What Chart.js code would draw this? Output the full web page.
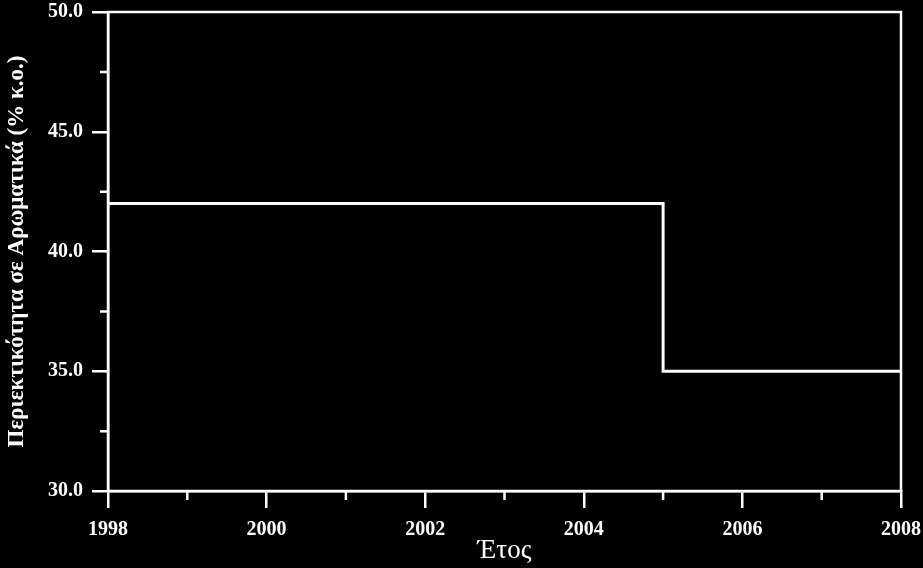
<!DOCTYPE html>
<html>
<head>
<meta charset="utf-8">
<script src="https://cdn.jsdelivr.net/npm/chart.js@4/dist/chart.umd.min.js"></script>
<style>
  html, body { margin: 0; padding: 0; background: #000; }
  #wrap { width: 923px; height: 568px; }
</style>
</head>
<body>
<div id="wrap"><canvas id="grafico" width="923" height="568"></canvas></div>
<script>
// Dados do gráfico (vértices da linha em degrau)
const anos = [1998, 2005, 2005, 2008];
const aromaticos = [42, 42, 35, 35];

// Ticks dos eixos
const ticksX = [1998, 2000, 2002, 2004, 2006, 2008];
const ticksXMenores = [1999, 2001, 2003, 2005, 2007];
const ticksY = [30, 35, 40, 45, 50];
const ticksYMenores = [32.5, 37.5, 42.5, 47.5];

const tituloX = 'Έτος';
const tituloY = 'Περιεκτικότητα σε Αρωματικά (% κ.ο.)';

const fonte = "'Liberation Serif', 'Times New Roman', serif";

// Plugin: moldura do gráfico + ticks menores
const molduraPlugin = {
  id: 'moldura',
  afterDraw(chart) {
    const ctx = chart.ctx;
    const area = chart.chartArea;
    const sx = chart.scales.x;
    const sy = chart.scales.y;
    ctx.save();
    ctx.strokeStyle = '#fff';
    ctx.lineWidth = 2.5;
    ctx.strokeRect(area.left, area.top, area.right - area.left, area.bottom - area.top);
    ctx.beginPath();
    ticksXMenores.forEach(v => {
      const px = sx.getPixelForValue(v);
      ctx.moveTo(px, area.bottom);
      ctx.lineTo(px, area.bottom + 9);
    });
    ticksYMenores.forEach(v => {
      const py = sy.getPixelForValue(v);
      ctx.moveTo(area.left, py);
      ctx.lineTo(area.left - 8, py);
    });
    ctx.stroke();
    ctx.restore();
  }
};

const ctx = document.getElementById('grafico').getContext('2d');
new Chart(ctx, {
  type: 'line',
  data: {
    datasets: [{
      data: anos.map((a, i) => ({ x: a, y: aromaticos[i] })),
      borderColor: '#fff',
      borderWidth: 3,
      pointRadius: 0,
      tension: 0,
      fill: false
    }]
  },
  options: {
    responsive: false,
    animation: false,
    layout: { padding: { left: 0, top: 12, right: 22, bottom: 0 } },
    plugins: { legend: { display: false }, tooltip: { enabled: false } },
    scales: {
      x: {
        type: 'linear',
        min: 1998,
        max: 2008,
        afterFit: s => { s.height = 77; s.paddingLeft = 0; s.paddingRight = 0; },
        afterBuildTicks: s => { s.ticks = ticksX.map(v => ({ value: v })); },
        grid: { drawOnChartArea: false, color: '#fff', lineWidth: 2.5, tickLength: 17 },
        border: { color: '#fff', width: 2.5 },
        ticks: {
          color: '#fff',
          padding: 10,
          maxRotation: 0,
          font: { family: fonte, size: 20, weight: 'bold' },
          callback: v => String(v)
        },
        title: {
          display: true,
          text: tituloX,
          color: '#fff',
          padding: { top: 0, bottom: 1 },
          font: { family: fonte, size: 27 }
        }
      },
      y: {
        type: 'linear',
        min: 30,
        max: 50,
        afterFit: s => { s.width = 108; s.paddingTop = 0; s.paddingBottom = 0; },
        afterBuildTicks: s => { s.ticks = ticksY.map(v => ({ value: v })); },
        grid: { drawOnChartArea: false, color: '#fff', lineWidth: 2.5, tickLength: 16 },
        border: { color: '#fff', width: 2.5 },
        ticks: {
          color: '#fff',
          padding: 9,
          font: { family: fonte, size: 20, weight: 'bold' },
          callback: v => Number(v).toFixed(1)
        },
        title: {
          display: true,
          text: tituloY,
          color: '#fff',
          padding: { top: 3, bottom: 0 },
          font: { family: fonte, size: 23, weight: 'bold' }
        }
      }
    }
  },
  plugins: [molduraPlugin]
});
</script>
</body>
</html>
